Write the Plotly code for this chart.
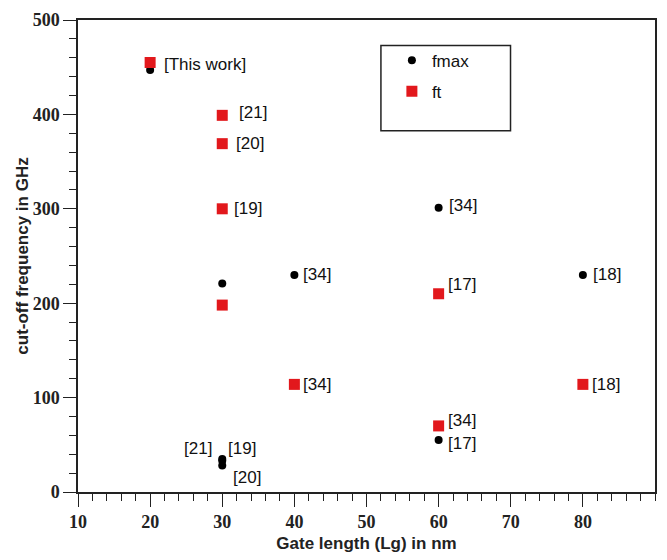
import plotly.graph_objects as go

# ---- data ----
fmax_x = [20, 30, 30, 30, 30, 40, 60, 60, 80]
fmax_y = [447, 221, 35, 33, 28, 230, 301, 55, 230]
fmax_labels = ["", "", "[21]", "[19]", "[20]", "[34]", "[34]", "[17]", "[18]"]

ft_x = [20, 30, 30, 30, 30, 40, 60, 60, 80]
ft_y = [455, 399, 369, 300, 198, 114, 210, 70, 114]
ft_labels = ["[This work]", "[21]", "[20]", "[19]", "", "[34]", "[17]", "[34]", "[18]"]

x_ticks = [10, 20, 30, 40, 50, 60, 70, 80]
y_ticks = [0, 100, 200, 300, 400, 500]

# label offsets (pixels) : (xanchor, xshift, yshift)
fmax_off = [None, None, ("right", -8, 10), ("left", 4, 12), ("left", 9, -12),
            ("left", 7, 0), ("left", 8, 2), ("left", 7, -3), ("left", 8, 0)]
ft_off = [("left", 12, -2), ("left", 15, 3), ("left", 12, 0), ("left", 10, 0), None,
          ("left", 7, 0), ("left", 7, 9), ("left", 7, 5), ("left", 7, 0)]

RED = "#e2181c"
fig = go.Figure()
fig.add_trace(go.Scatter(x=fmax_x, y=fmax_y, mode="markers", name="fmax",
                         legendgroup="a",
                         marker=dict(symbol="circle", size=8, color="black")))
fig.add_trace(go.Scatter(x=ft_x, y=ft_y, mode="markers", name="ft",
                         legendgroup="b",
                         marker=dict(symbol="square", size=11, color=RED)))

ann = []
for xs, ys, labs, offs in [(fmax_x, fmax_y, fmax_labels, fmax_off),
                           (ft_x, ft_y, ft_labels, ft_off)]:
    for x, y, t, o in zip(xs, ys, labs, offs):
        if not t:
            continue
        ann.append(dict(x=x, y=y, text=t, showarrow=False, xanchor=o[0],
                        yanchor="middle", xshift=o[1], yshift=o[2],
                        font=dict(family="Liberation Sans", size=17, color="#111")))

axis_common = dict(showline=True, linecolor="#222", linewidth=1.5, mirror=True,
                   ticks="outside", tickcolor="#222", tickwidth=1.3,
                   showgrid=False, zeroline=False,
                   tickfont=dict(family="Liberation Sans Narrow", size=18, color="#222",
                                 weight="bold"))

fig.update_layout(
    width=667, height=560,
    margin=dict(l=78, r=10, t=13, b=65),
    plot_bgcolor="white", paper_bgcolor="white",
    annotations=ann,
    showlegend=True,
    shapes=[dict(type="rect", xref="paper", yref="paper",
                 x0=0.525, x1=0.7496, y0=0.7656, y1=0.946,
                 line=dict(color="#222", width=1.5), fillcolor="rgba(0,0,0,0)")],
    legend=dict(x=0.544, y=0.952, xanchor="left", yanchor="top",
                borderwidth=0, bgcolor="rgba(0,0,0,0)",
                font=dict(family="Liberation Sans", size=17, color="#111"),
                tracegroupgap=6, itemwidth=30),
    xaxis=dict(range=[10, 90], tickmode="array", tickvals=x_ticks,
               ticklen=13,
               minor=dict(dtick=2, tick0=10, ticks="outside", ticklen=7, tickcolor="#222", tickwidth=1.3),
               title=dict(text="Gate length (Lg) in nm", standoff=6,
                          font=dict(family="Liberation Sans", size=17, color="#222", weight="bold")),
               **axis_common),
    yaxis=dict(range=[0, 500], tickmode="array", tickvals=y_ticks,
               ticklen=13,
               minor=dict(dtick=20, tick0=0, ticks="outside", ticklen=7, tickcolor="#222", tickwidth=1.3),
               title=dict(text="cut-off frequency in GHz", standoff=0,
                          font=dict(family="Liberation Sans", size=17, color="#222", weight="bold")),
               **axis_common),
)

fig.write_html("out.html")
